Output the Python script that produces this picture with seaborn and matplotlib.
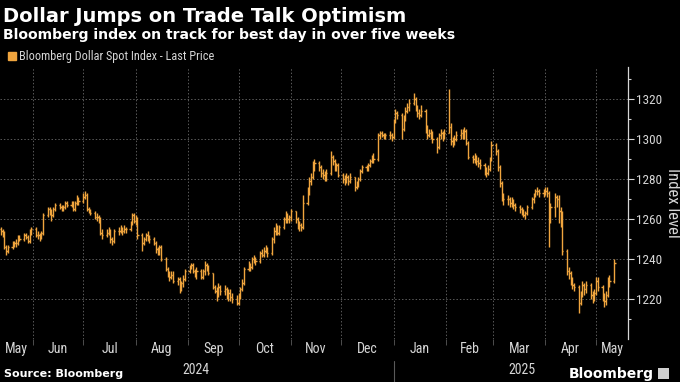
import pandas as pd
import matplotlib
matplotlib.use('Agg')
import matplotlib.pyplot as plt
from matplotlib.patches import Patch, Rectangle
from matplotlib import font_manager
import seaborn as sns

# ---- data: daily bars (weekdays) 2024-05-13 .. 2025-05-12 ----
start_date = '2024-05-13'
end_date = '2025-05-12'
first_open = 1255

close = [
    1254, 1253, 1246, 1244, 1246,
    1247, 1248, 1248, 1251, 1250,
    1252, 1251, 1249, 1254, 1255,
    1252, 1252, 1251, 1253, 1262,
    1265, 1264, 1262, 1265, 1267,
    1266, 1265, 1266, 1268, 1267,
    1268, 1265, 1268, 1270, 1269,
    1271, 1272, 1265, 1264, 1263,
    1261, 1261, 1260, 1253, 1252,
    1253, 1254, 1250, 1249, 1254,
    1254, 1255, 1254, 1255, 1255,
    1258, 1262, 1259, 1260, 1252,
    1248, 1250, 1252, 1251, 1250,
    1248, 1245, 1244, 1246, 1240,
    1235, 1233, 1231, 1232, 1229,
    1230, 1225, 1228, 1230, 1234,
    1236, 1237, 1234, 1232, 1234,
    1231, 1234, 1237, 1236, 1233,
    1226, 1224, 1222, 1226, 1224,
    1225, 1221, 1223, 1221, 1220,
    1218, 1221, 1225, 1228, 1235,
    1237, 1236, 1240, 1240, 1239,
    1243, 1242, 1244, 1245, 1243,
    1250, 1254, 1256, 1253, 1256,
    1260, 1262, 1260, 1261, 1264,
    1260, 1257, 1257, 1256, 1268,
    1274, 1279, 1281, 1287, 1288,
    1286, 1283, 1282, 1281, 1283,
    1291, 1289, 1285, 1287, 1282,
    1280, 1279, 1281, 1279, 1281,
    1276, 1277, 1280, 1284, 1286,
    1285, 1287, 1289, 1291, 1290,
    1302, 1303, 1302, 1301, 1302,
    1302, 1301, 1309, 1313, 1312,
    1305, 1311, 1314, 1316, 1318,
    1320, 1315, 1313, 1312, 1314,
    1306, 1302, 1303, 1302, 1300,
    1296, 1302, 1303, 1301, 1303,
    1306, 1299, 1298, 1300, 1302,
    1303, 1302, 1304, 1298, 1291,
    1290, 1291, 1289, 1288, 1287,
    1284, 1283, 1285, 1290, 1297,
    1294, 1286, 1278, 1271, 1270,
    1270, 1268, 1269, 1267, 1266,
    1265, 1263, 1262, 1263, 1266,
    1270, 1272, 1274, 1274, 1273,
    1274, 1274, 1273, 1262, 1266,
    1271, 1270, 1264, 1262, 1244,
    1234, 1233, 1229, 1227, 1226,
    1218, 1222, 1227, 1225, 1227,
    1222, 1221, 1223, 1229, 1226,
    1221, 1219, 1222, 1230, 1229,
    1238,
]

high = [
    1256, 1255, 1254, 1247, 1247,
    1249, 1249, 1250, 1252, 1252,
    1253, 1253, 1252, 1255, 1256,
    1256, 1254, 1253, 1254, 1263,
    1266, 1266, 1265, 1266, 1268,
    1268, 1267, 1267, 1269, 1269,
    1269, 1269, 1269, 1272, 1271,
    1273, 1274, 1273, 1266, 1265,
    1264, 1263, 1262, 1261, 1255,
    1255, 1256, 1255, 1251, 1255,
    1256, 1257, 1256, 1257, 1256,
    1259, 1263, 1263, 1262, 1261,
    1253, 1251, 1253, 1254, 1252,
    1251, 1249, 1246, 1247, 1247,
    1241, 1236, 1234, 1234, 1234,
    1231, 1231, 1229, 1232, 1235,
    1237, 1238, 1238, 1235, 1236,
    1235, 1235, 1239, 1238, 1237,
    1233, 1227, 1226, 1228, 1227,
    1227, 1226, 1225, 1225, 1223,
    1222, 1223, 1226, 1230, 1236,
    1239, 1238, 1241, 1242, 1241,
    1244, 1245, 1246, 1247, 1246,
    1251, 1256, 1258, 1257, 1257,
    1261, 1264, 1263, 1262, 1265,
    1264, 1261, 1259, 1258, 1272,
    1276, 1281, 1283, 1289, 1290,
    1289, 1287, 1285, 1284, 1285,
    1294, 1292, 1290, 1288, 1288,
    1283, 1282, 1283, 1282, 1283,
    1281, 1279, 1281, 1285, 1287,
    1287, 1288, 1290, 1292, 1293,
    1303, 1304, 1304, 1303, 1303,
    1304, 1303, 1310, 1315, 1314,
    1313, 1312, 1316, 1318, 1320,
    1323, 1321, 1317, 1315, 1317,
    1315, 1307, 1305, 1305, 1304,
    1301, 1303, 1305, 1304, 1305,
    1325, 1308, 1301, 1302, 1304,
    1305, 1305, 1306, 1305, 1299,
    1292, 1293, 1292, 1291, 1290,
    1288, 1286, 1287, 1291, 1299,
    1298, 1295, 1287, 1279, 1273,
    1272, 1271, 1271, 1270, 1268,
    1267, 1266, 1265, 1264, 1267,
    1271, 1273, 1275, 1276, 1275,
    1275, 1276, 1276, 1274, 1268,
    1273, 1272, 1272, 1266, 1264,
    1245, 1236, 1234, 1231, 1228,
    1227, 1224, 1229, 1228, 1229,
    1228, 1224, 1225, 1231, 1231,
    1227, 1223, 1224, 1231, 1232,
    1240,
]

low = [
    1252, 1251, 1245, 1242, 1243,
    1245, 1246, 1246, 1247, 1249,
    1249, 1250, 1248, 1248, 1252,
    1251, 1250, 1249, 1250, 1252,
    1261, 1262, 1259, 1261, 1264,
    1265, 1264, 1264, 1265, 1266,
    1266, 1264, 1264, 1267, 1267,
    1268, 1270, 1264, 1263, 1262,
    1260, 1259, 1258, 1252, 1250,
    1251, 1252, 1248, 1247, 1248,
    1252, 1253, 1252, 1253, 1253,
    1254, 1257, 1258, 1257, 1250,
    1244, 1247, 1249, 1249, 1248,
    1247, 1243, 1242, 1242, 1239,
    1234, 1231, 1229, 1230, 1228,
    1227, 1223, 1224, 1226, 1229,
    1233, 1235, 1233, 1231, 1230,
    1230, 1230, 1232, 1234, 1232,
    1225, 1223, 1219, 1221, 1222,
    1222, 1220, 1219, 1219, 1218,
    1217, 1217, 1220, 1224, 1227,
    1234, 1234, 1235, 1238, 1237,
    1238, 1241, 1241, 1243, 1241,
    1242, 1248, 1252, 1252, 1252,
    1255, 1258, 1258, 1258, 1259,
    1258, 1255, 1254, 1254, 1255,
    1267, 1272, 1277, 1280, 1284,
    1284, 1281, 1280, 1279, 1279,
    1282, 1287, 1284, 1284, 1281,
    1278, 1277, 1278, 1277, 1278,
    1274, 1275, 1276, 1279, 1283,
    1284, 1284, 1286, 1288, 1288,
    1289, 1300, 1301, 1300, 1300,
    1300, 1299, 1300, 1308, 1310,
    1300, 1304, 1309, 1313, 1314,
    1317, 1314, 1311, 1310, 1311,
    1303, 1300, 1301, 1300, 1298,
    1293, 1295, 1300, 1299, 1300,
    1303, 1297, 1296, 1297, 1299,
    1300, 1300, 1300, 1297, 1290,
    1288, 1288, 1287, 1286, 1285,
    1282, 1281, 1282, 1284, 1289,
    1292, 1284, 1276, 1269, 1267,
    1267, 1266, 1266, 1265, 1264,
    1263, 1262, 1261, 1260, 1262,
    1265, 1268, 1271, 1272, 1271,
    1271, 1272, 1271, 1246, 1258,
    1261, 1266, 1258, 1256, 1242,
    1232, 1230, 1227, 1225, 1224,
    1213, 1217, 1221, 1222, 1223,
    1220, 1218, 1219, 1222, 1224,
    1219, 1216, 1217, 1221, 1226,
    1228,
]

y_ticks = [1220, 1240, 1260, 1280, 1300, 1320]
years = ['2024', '2025']

df = pd.DataFrame({'date': pd.bdate_range(start_date, end_date),
                   'close': close, 'high': high, 'low': low})
df['open'] = df['close'].shift(1).fillna(first_open)

# ---- style ----
orange = '#F0A53E'
grid_col = '#5a5a5a'
txt_col = '#d6d6d6'
sns.set_theme(style='dark', rc={
    'figure.facecolor': 'black', 'axes.facecolor': 'black',
    'savefig.facecolor': 'black', 'text.color': 'white',
    'axes.labelcolor': txt_col, 'xtick.color': txt_col, 'ytick.color': txt_col,
})
plt.rcParams['font.family'] = ['DejaVu Sans']

# pick a narrow face for the small labels if one is installed
installed = {f.name for f in font_manager.fontManager.ttflist}
narrow = 'DejaVu Sans'
for cand in ['Liberation Sans Narrow', 'DejaVu Sans Condensed', 'Roboto Condensed', 'Open Sans Condensed']:
    if cand in installed:
        narrow = cand
        break
narrow_scale = 1.0 if narrow != 'DejaVu Sans' else 0.88

fig = plt.figure(figsize=(6.8, 3.82), dpi=100)
ax = fig.add_axes([0.0, 0.113, 0.9235, 0.712])

half = pd.Timedelta(hours=17)
ax.vlines(df['date'], df['low'], df['high'], color=orange, lw=1.0)
ax.hlines(df['open'], df['date'] - half, df['date'], color=orange, lw=1.0)
ax.hlines(df['close'], df['date'], df['date'] + half, color=orange, lw=1.0)

x0 = pd.Timestamp('2024-05-12 12:00')
x1 = pd.Timestamp('2025-05-20')
ax.set_xlim(x0, x1)
ax.set_ylim(1200, 1336)

# y axis on the right
ax.yaxis.tick_right()
ax.yaxis.set_label_position('right')
ax.set_yticks(y_ticks)
ax.set_yticks(range(1210, 1336, 20), minor=True)
ax.set_ylabel('Index level', rotation=270, labelpad=13, fontsize=12 * narrow_scale,
              family=narrow, color=txt_col)
for lab in ax.get_yticklabels():
    lab.set_family(narrow)
ax.tick_params(axis='y', which='major', length=4, width=0.8, pad=1.5,
               labelsize=9.5 * narrow_scale, color=txt_col, right=True)
ax.tick_params(axis='y', which='minor', length=2.5, width=0.8, color=txt_col, right=True)

# x axis: month boundaries as gridlines, labels centred between them
month_starts = pd.date_range('2024-06-01', '2025-05-01', freq='MS')
edges = [x0] + list(month_starts) + [x1]
mids = [a + (b - a) / 2 for a, b in zip(edges[:-1], edges[1:])]
ax.set_xticks(month_starts)
ax.set_xticklabels([])
ax.set_xticks(mids, minor=True)
ax.set_xticklabels([m.strftime('%b') for m in mids], minor=True, family=narrow)
ax.tick_params(axis='x', which='major', length=4, width=0.6, color=grid_col, bottom=True)
ax.tick_params(axis='x', which='minor', length=0, labelsize=10 * narrow_scale, pad=2)

ax.grid(True, which='major', axis='both', color=grid_col, lw=0.7, ls=(0, (1.5, 2)))
for s in ['top', 'left', 'bottom']:
    ax.spines[s].set_visible(False)
ax.spines['right'].set_color(txt_col)
ax.spines['right'].set_linewidth(0.9)

# year labels and separator
trans = ax.get_xaxis_transform()
year_pos = [pd.Timestamp('2024-09-06'), pd.Timestamp('2025-03-18')]
for yr, xp in zip(years, year_pos):
    ax.text(xp, -0.115, yr, transform=trans, ha='center', va='center',
            fontsize=10 * narrow_scale, color=txt_col, family=narrow)
ax.plot([pd.Timestamp('2025-01-01')] * 2, [-0.08, -0.16], transform=trans,
        color=grid_col, lw=0.8, clip_on=False)

# titles
fig.text(0.004, 0.958, 'Dollar Jumps on Trade Talk Optimism', fontsize=14,
         fontweight='bold', color='white', va='center')
fig.text(0.004, 0.908, 'Bloomberg index on track for best day in over five weeks',
         fontsize=10.1, fontweight='bold', color='white', va='center')
fig.legend(handles=[Patch(color=orange)],
           labels=['Bloomberg Dollar Spot Index - Last Price'],
           loc='center left', bbox_to_anchor=(-0.004, 0.851), frameon=False,
           handlelength=0.6, handleheight=0.6, handletextpad=0.3,
           prop={'family': narrow, 'size': 8.8 * narrow_scale}, labelcolor=txt_col)

# footer
fig.text(0.006, 0.021, 'Source: Bloomberg', fontsize=8, fontweight='bold',
         color='white', va='center')
fig.text(0.962, 0.021, 'Bloomberg', fontsize=10, fontweight='bold',
         color='white', va='center', ha='right')
fig.add_artist(Rectangle((0.968, 0.008), 0.016, 0.028, transform=fig.transFigure,
                         facecolor='#cfcfcf', edgecolor='none'))

fig.savefig('out.png', dpi=100)
